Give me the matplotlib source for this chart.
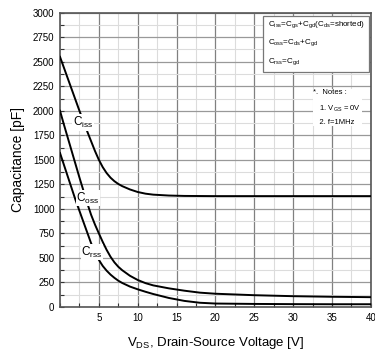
import matplotlib
matplotlib.use("Agg")
import matplotlib.pyplot as plt
from matplotlib.ticker import MultipleLocator

plt.rcParams['font.family'] = ['Liberation Sans', 'DejaVu Sans']

# data
vds = [0, 0.5, 1, 1.5, 2, 2.5, 3, 3.5, 4, 4.5, 5, 5.5, 6, 6.5, 7, 7.5, 8, 9, 10,
       11, 12, 14, 16, 18, 20, 25, 30, 35, 40]
ciss = [2550, 2440, 2330, 2220, 2110, 2000, 1895, 1790, 1690, 1590, 1500, 1425,
        1365, 1318, 1282, 1254, 1232, 1198, 1172, 1155, 1145, 1136, 1132, 1131,
        1130, 1130, 1130, 1130, 1130]
coss = [2000, 1860, 1725, 1590, 1455, 1320, 1190, 1060, 940, 840, 750, 663,
        582, 512, 455, 410, 375, 318, 275, 243, 220, 190, 166, 146, 135, 120,
        110, 104, 100]
crss = [1570, 1450, 1330, 1210, 1090, 980, 870, 760, 650, 560, 480, 418, 370,
        330, 297, 268, 245, 208, 180, 155, 132, 92, 62, 43, 35, 31, 29, 28, 28]
xticks = [5, 10, 15, 20, 25, 30, 35, 40]

fig = plt.figure(figsize=(3.75, 3.62), dpi=100)
ax = fig.add_axes([0.16, 0.152, 0.829, 0.813])

ax.plot(vds, ciss, color='black', lw=1.4, zorder=3)
ax.plot(vds, coss, color='black', lw=1.4, zorder=3)
ax.plot(vds, crss, color='black', lw=1.4, zorder=3)

ax.set_xlim(0, 40)
ax.set_ylim(0, 3000)
ax.set_xticks(xticks)
ax.yaxis.set_major_locator(MultipleLocator(250))
ax.xaxis.set_minor_locator(MultipleLocator(2.5))
ax.yaxis.set_minor_locator(MultipleLocator(125))
ax.tick_params(which='both', direction='in', labelsize=7, length=3, width=0.8, color='#333333')
ax.tick_params(which='major', pad=4)

ax.grid(which='major', axis='x', color='#808080', lw=0.9)
ax.grid(which='major', axis='y', color='#999999', lw=0.9)
ax.grid(which='minor', color='#dcdcdc', lw=0.8)
ax.set_axisbelow(True)
for s in ax.spines.values():
    s.set_color('#555555')
    s.set_linewidth(1.2)

ax.set_ylabel('Capacitance [pF]', fontsize=10, labelpad=6)
ax.set_xlabel(r'V$_\mathregular{DS}$, Drain-Source Voltage [V]', fontsize=9.5, labelpad=9)

# curve labels
lbl = dict(fontsize=8.5, ha='center', va='center', zorder=4,
           bbox=dict(facecolor='white', edgecolor='none', pad=0.5))
ax.text(3.0, 1880, r'C$_\mathregular{iss}$', **lbl)
ax.text(3.6, 1110, r'C$_\mathregular{oss}$', **lbl)
ax.text(4.1, 560, r'C$_\mathregular{rss}$', **lbl)

# formula box
ax.text(0.668, 0.975,
        r'C$_\mathregular{iss}$=C$_\mathregular{gs}$+C$_\mathregular{gd}$(C$_\mathregular{ds}$=shorted)' '\n'
        r'C$_\mathregular{oss}$=C$_\mathregular{ds}$+C$_\mathregular{gd}$' '\n'
        r'C$_\mathregular{rss}$=C$_\mathregular{gd}$',
        transform=ax.transAxes, fontsize=5.8, va='top', ha='left',
        linespacing=2.1, zorder=5,
        bbox=dict(facecolor='white', edgecolor='#777777', lw=0.9, pad=3))

# notes
ax.text(0.815, 0.74, '*.  Notes :\n   1. V$_\\mathregular{GS}$ = 0V\n   2. f=1MHz',
        transform=ax.transAxes, fontsize=5.5, va='top', ha='left',
        linespacing=2.0, zorder=5,
        bbox=dict(facecolor='white', edgecolor='none', pad=0.5))

fig.savefig('out.png', dpi=100)
